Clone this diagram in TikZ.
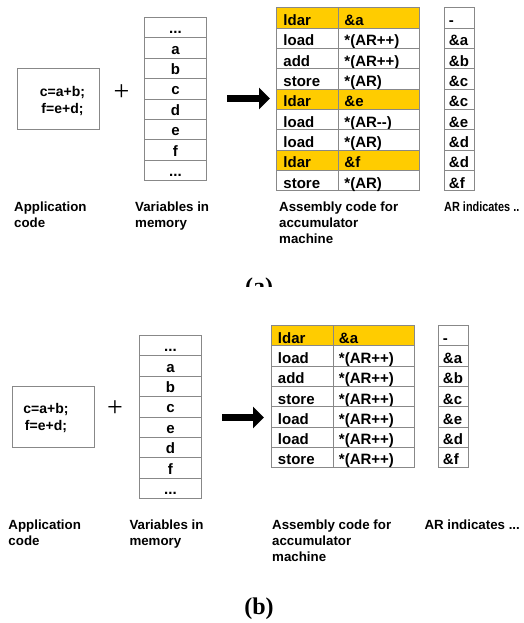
\documentclass[tikz,border=0pt]{standalone}
\usepackage{fontspec}
\setmainfont{Liberation Sans}
\newfontfamily\capfont{Liberation Serif}
\usetikzlibrary{arrows.meta}
\definecolor{bord}{HTML}{888888}
\definecolor{hl}{HTML}{FFCC00}
\newcommand{\tdots}{...}
\begin{document}
\begin{tikzpicture}[x=1pt,y=-1pt,
  cellbase/.style={draw=bord, line width=0.9pt, anchor=north west, inner ysep=0pt, font=\bfseries\fontsize{15}{15}\selectfont},
  tcell/.style={cellbase, minimum height=20.33pt, text height=15pt, text depth=0pt, align=left},
  opcell/.style={tcell, inner xsep=7pt, text width=48pt},
  argcell/.style={tcell, inner xsep=6pt, text width=69pt},
  arcell/.style={tcell, inner xsep=4.5pt, text width=20.5pt},
  mcell/.style={cellbase, minimum width=62pt, minimum height=20.4pt, inner xsep=0pt, text height=12pt, text depth=0pt},
  appbox/.style={draw=bord, line width=0.9pt, anchor=north west, minimum width=82pt, minimum height=61pt, inner sep=0pt},
  apptext/.style={font=\bfseries\fontsize{14}{17}\selectfont, align=center, inner sep=0pt},
  captext/.style={font=\bfseries\fontsize{13.3}{16}\selectfont, align=left, anchor=north west, inner sep=0pt},
  plussign/.style={font=\capfont\fontsize{28}{28}\selectfont, inner sep=0pt},
  bigarrow/.style={line width=6.7pt, -{Triangle[length=11pt 0, width=21pt 0]}},
  sublabel/.style={font=\capfont\bfseries\fontsize{24}{24}\selectfont, anchor=base, inner sep=0pt}
]
\useasboundingbox (0,0) rectangle (524,623);

% ---------------- (a) ----------------
\node[appbox] (appA) at (17.3,68.3) {};
\node[apptext] (appAt) at (62.5,101) {c=a+b;\\f=e+d;};
\node[plussign] (plusA) at (121.5,92.5) {+};
\foreach \v [count=\i from 0] in {\tdots,a,b,c,d,e,f,\tdots}
  \node[mcell] (memA\i) at (144,{17+\i*20.4}) {\v};
\coordinate (arrAs) at (227,98.5);
\coordinate (arrAe) at (270,98.5);
\draw[bigarrow] (arrAs) -- (arrAe);
\foreach \op/\arg/\ar/\fc [count=\i from 0] in
  {ldar/\&a/-/hl, load/*(AR++)/\&a/white, add/*(AR++)/\&b/white,
   store/*(AR)/\&c/white, ldar/\&e/\&c/hl, load/*(AR-{}-)/\&e/white,
   load/*(AR)/\&d/white, ldar/\&f/\&d/hl, store/*(AR)/\&f/white}{
  \node[opcell, fill=\fc] (opA\i) at (276,{7.3+\i*20.33}) {\op};
  \node[argcell, fill=\fc] (argA\i) at (338,{7.3+\i*20.33}) {\arg};
  \node[arcell] (arA\i) at (444,{7.3+\i*20.33}) {\ar};
}
\node[captext] (capA1) at (14,202) {Application\\code};
\node[captext] (capA2) at (135,202) {Variables in\\memory};
\node[captext] (capA3) at (279,202) {Assembly code for\\accumulator\\machine};
\node[captext] (capA4) at (444,202) {\scalebox{0.82}[1]{AR indicates ..}};
\begin{scope}
  \clip (0,0) rectangle (524,286.5);
  \node[sublabel] (subA) at (259,294.5) {(a)};
\end{scope}

% ---------------- (b) ----------------
\node[appbox] (appB) at (12.3,386) {};
\node[apptext] (appBt) at (46,418.5) {c=a+b;\\f=e+d;};
\node[plussign] (plusB) at (115,409) {+};
\foreach \v [count=\i from 0] in {\tdots,a,b,c,e,d,f,\tdots}
  \node[mcell] (memB\i) at (139,{335+\i*20.4}) {\v};
\coordinate (arrBs) at (222,417.5);
\coordinate (arrBe) at (264,417.5);
\draw[bigarrow] (arrBs) -- (arrBe);
\foreach \op/\arg/\ar/\fc [count=\i from 0] in
  {ldar/\&a/-/hl, load/*(AR++)/\&a/white, add/*(AR++)/\&b/white,
   store/*(AR++)/\&c/white, load/*(AR++)/\&e/white,
   load/*(AR++)/\&d/white, store/*(AR++)/\&f/white}{
  \node[opcell, fill=\fc] (opB\i) at (270.5,{325+\i*20.3}) {\op};
  \node[argcell, fill=\fc] (argB\i) at (332.5,{325+\i*20.3}) {\arg};
  \node[arcell] (arB\i) at (438,{325+\i*20.3}) {\ar};
}
\node[captext] (capB1) at (8.3,519.6) {Application\\code};
\node[captext] (capB2) at (129.3,519.6) {Variables in\\memory};
\node[captext] (capB3) at (272,519.6) {Assembly code for\\accumulator\\machine};
\node[captext] (capB4) at (424.3,519.6) {AR indicates ...};
\node[sublabel] (subB) at (259,614) {(b)};
\end{tikzpicture}
\end{document}
